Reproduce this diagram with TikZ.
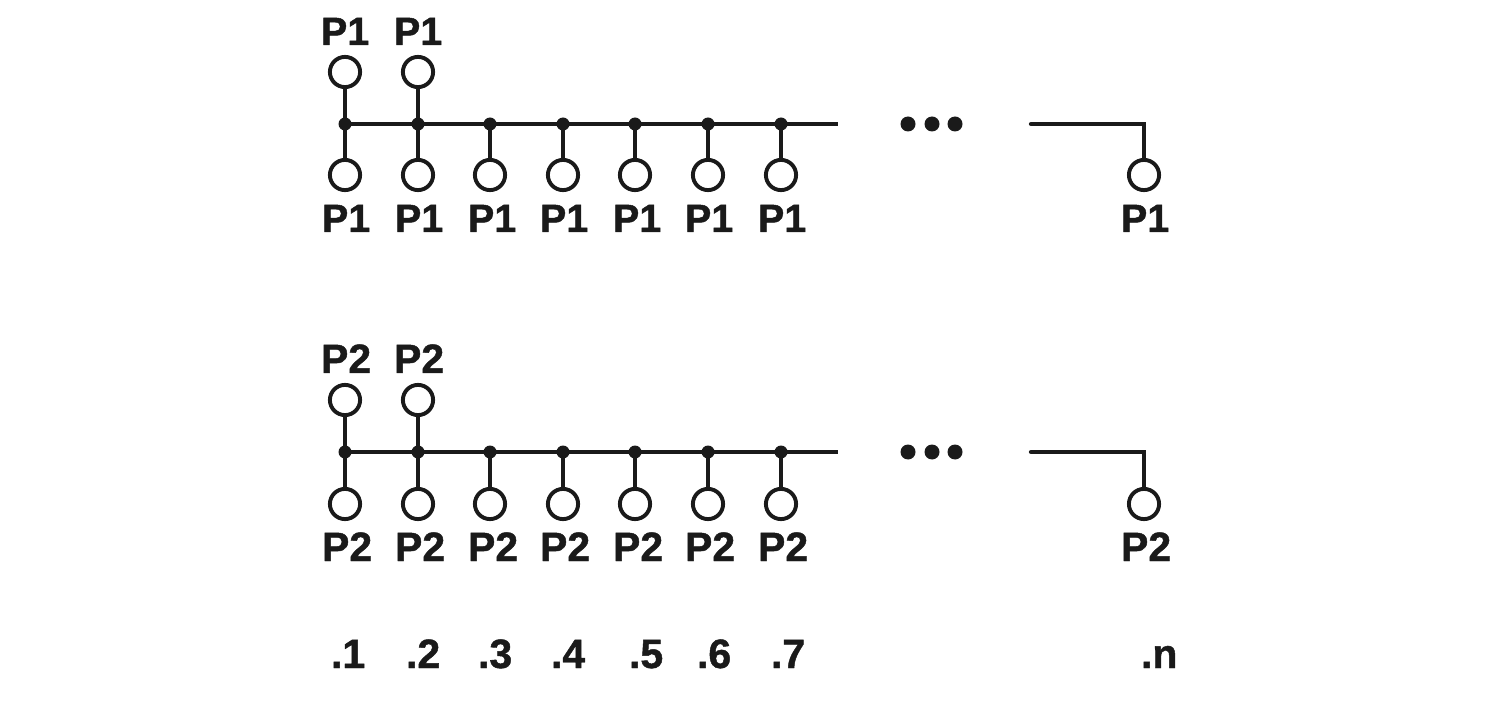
\documentclass[tikz,border=0pt]{standalone}
\usepackage{fontspec}
\newfontfamily\labfont[FakeBold=1.1]{Liberation Sans Bold}
\definecolor{ink}{HTML}{1A1A1A}
\tikzset{
  term/.style={circle,draw=ink,line width=3.9pt,fill=white,minimum size=30.2pt,inner sep=0pt,outer sep=0pt},
  junction/.style={circle,fill=ink,minimum size=13pt,inner sep=0pt,outer sep=0pt},
  etc/.style={circle,fill=ink,minimum size=15pt,inner sep=0pt,outer sep=0pt},
  wire/.style={draw=ink,line width=4.4pt},
  lab/.style={anchor=base west,inner sep=0pt,outer sep=0pt,text=ink,font=\fontsize{#1}{40pt}\labfont},
  lab/.default=40pt,
}
\begin{document}
\begin{tikzpicture}[x=1pt,y=-1pt]
\useasboundingbox (0,0) rectangle (1500,703);
\foreach \r/\t/\ty/\by/\boty/\tb/\bb/\fs in {a/P1/72/124/175/45/232/39.5pt, b/P2/400/452/504/373/561/41pt}{
  \foreach \i/\x/\lx in {1/345/322,2/418/395,3/490/468,4/563/540,5/635/613,6/708/685,7/781/758}{
    \node[junction] (j\r\i) at (\x,\by) {};
    \node[term] (c\r\i) at (\x,\boty) {};
    \draw[wire] (j\r\i.center) -- (c\r\i);
    \node[lab=\fs] (l\r\i) at (\lx,\bb) {\t};
  }
  \foreach \i/\x/\lx in {1/345/321,2/418/394}{
    \node[term] (u\r\i) at (\x,\ty) {};
    \draw[wire] (j\r\i.center) -- (u\r\i);
    \node[lab=\fs] (m\r\i) at (\lx,\tb) {\t};
  }
  \coordinate (e\r) at (838,\by);
  \draw[wire] (j\r1.center) -- (e\r);
  \node[etc] (da\r) at (908,\by) {};
  \node[etc] (db\r) at (932,\by) {};
  \node[etc] (dc\r) at (955,\by) {};
  \coordinate (s\r) at (1031,\by);
  \node[term] (cn\r) at (1144,\boty) {};
  \draw[wire,line cap=round,line join=miter] (s\r) -| (cn\r);
  \node[lab=\fs] (ln\r) at (1121,\bb) {\t};
}
\foreach \i/\lx/\t in {1/331/.1,2/406/.2,3/478/.3,4/551/.4,5/629/.5,6/697/.6,7/771/.7,n/1141/.n}{
  \node[lab=41pt] (n\i) at (\lx,668) {\t};
}
\end{tikzpicture}
\end{document}
